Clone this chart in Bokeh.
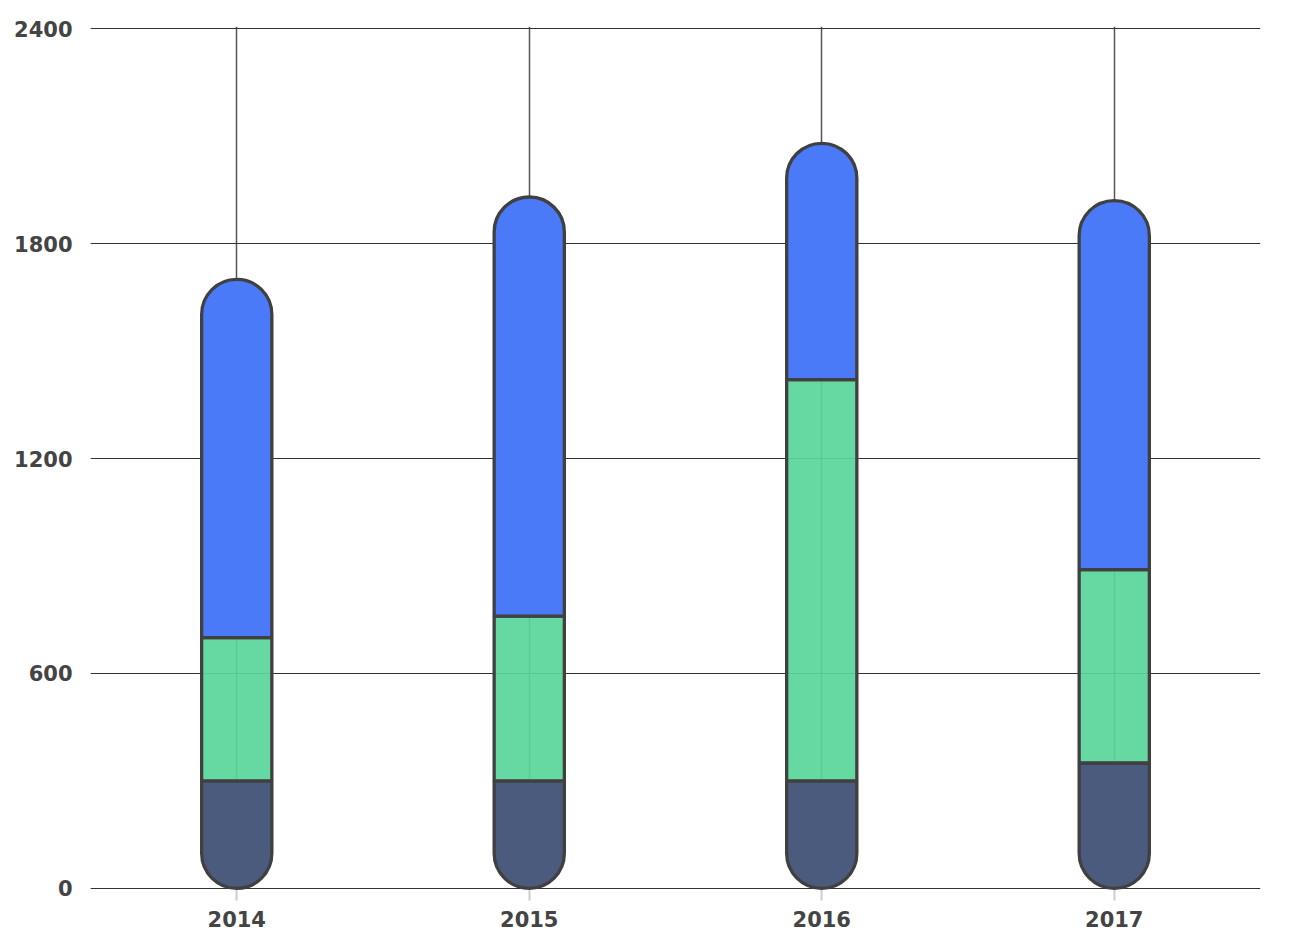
from bokeh.plotting import figure
from bokeh.models import ColumnDataSource, Range1d, FixedTicker
from bokeh.embed import file_html
from bokeh.resources import INLINE

years = ["2014", "2015", "2016", "2017"]
dark_vals = [300, 300, 300, 350]
green_vals = [400, 460, 1120, 540]
blue_vals = [1000, 1170, 660, 1030]

dark_top = dark_vals
green_top = [d + g for d, g in zip(dark_vals, green_vals)]
blue_top = [g + b for g, b in zip(green_top, blue_vals)]
y_ticks = [0, 600, 1200, 1800, 2400]

src = ColumnDataSource(dict(x=years, d0=[0]*4, d1=dark_top, g1=green_top, b1=blue_top))

p = figure(x_range=years, y_range=Range1d(-6, 2406), width=1306, height=940,
           output_backend="svg", toolbar_location=None,
           min_border_left=90, min_border_right=46, min_border_top=26, min_border_bottom=50)
p.outline_line_color = None
p.background_fill_color = "white"
p.border_fill_color = "white"

p.ygrid.grid_line_color = "#333333"
p.ygrid.grid_line_width = 1.2
p.xgrid.grid_line_color = "#555555"
p.xgrid.grid_line_width = 1.5

p.yaxis.ticker = FixedTicker(ticks=y_ticks)
p.yaxis.axis_line_color = None
p.yaxis.major_tick_line_color = None
p.yaxis.minor_tick_line_color = None
p.yaxis.major_label_standoff = 12
p.xaxis.axis_line_color = None
p.xaxis.major_tick_line_color = "#cccccc"
p.xaxis.major_tick_line_width = 2
p.xaxis.major_tick_out = 10
p.xaxis.major_tick_in = 0
p.xaxis.major_label_standoff = 10
for ax in (p.xaxis, p.yaxis):
    ax.major_label_text_font = "DejaVu Sans"
    ax.major_label_text_font_style = "bold"
    ax.major_label_text_font_size = "21px"
    ax.major_label_text_color = "#444444"

W = 0.24
p.vbar(x="x", bottom="d0", top="d1", width=W, source=src, fill_color="#4b5b7e",
       line_color="#404040", line_width=3.3, border_radius=(0, 0, 35, 35))
p.vbar(x="x", bottom="d1", top="g1", width=W, source=src, fill_color="#58d699", fill_alpha=0.92,
       line_color="#404040", line_width=3.3)
p.vbar(x="x", bottom="g1", top="b1", width=W, source=src, fill_color="#4a7af8",
       line_color="#404040", line_width=3.3, border_radius=(35, 35, 0, 0))

open("out.html", "w").write(file_html(p, INLINE))
